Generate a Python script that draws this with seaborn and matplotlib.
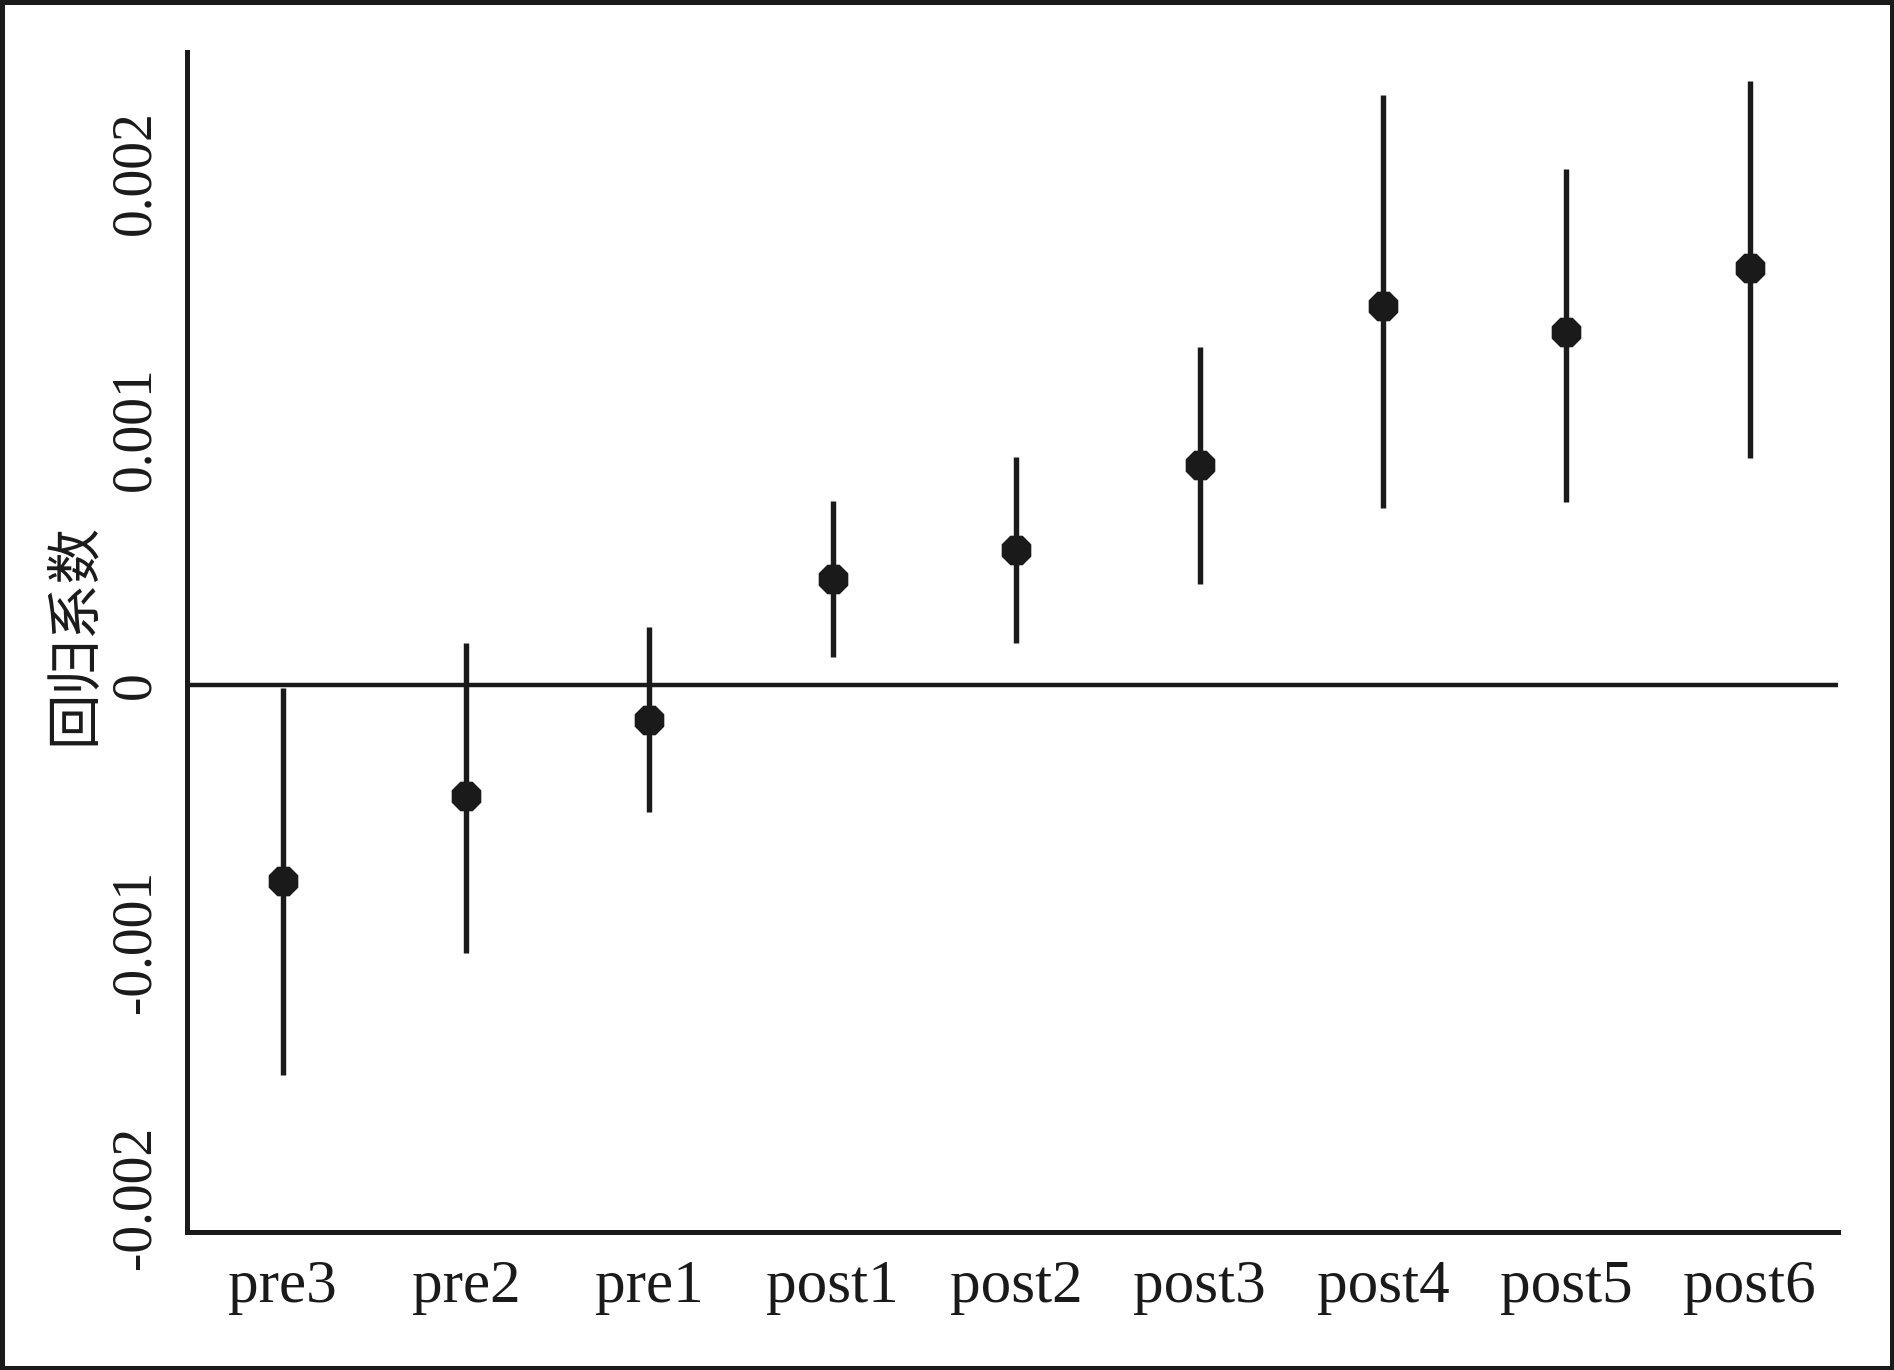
import numpy as np
import pandas as pd
import matplotlib
matplotlib.use("Agg")
import matplotlib.pyplot as plt
import seaborn as sns
from matplotlib.patches import Rectangle

# ---- data ----
periods = ["pre3", "pre2", "pre1", "post1", "post2", "post3", "post4", "post5", "post6"]
coef = [-0.000765, -0.000435, -0.000135, 0.000414, 0.000527, 0.000859, 0.001482, 0.001379, 0.001628]
ci_low = [-0.001525, -0.001045, -0.000495, 0.000109, 0.000164, 0.000395, 0.000690, 0.000716, 0.000888]
ci_high = [-0.000010, 0.000166, 0.000226, 0.000719, 0.000890, 0.001322, 0.002304, 0.002016, 0.002359]
yticks = [-0.002, -0.001, 0, 0.001, 0.002]
ytick_labels = ["-0.002", "-0.001", "0", "0.001", "0.002"]
ylabel = "回归系数"

df = pd.DataFrame({"period": periods, "coef": coef, "lo": ci_low, "hi": ci_high})

sns.set_theme(style="white")
plt.rcParams["font.family"] = ["Liberation Serif", "DejaVu Serif"]

ink = "#1a1a1a"
fig = plt.figure(figsize=(18.94, 13.70), dpi=100)
ax = fig.add_axes([187 / 1894, 138 / 1370, (1838 - 187) / 1894, (1232 - 52) / 1370])

xpos = np.arange(len(df))
# zero reference line
ax.axhline(0, color=ink, lw=3.2, zorder=1)
# confidence intervals
ax.vlines(xpos, df["lo"], df["hi"], color=ink, lw=3.9, zorder=2)
# point estimates
sns.scatterplot(data=df, x="period", y="coef", ax=ax, marker="8", s=22 ** 2,
                color=ink, edgecolor=ink, linewidth=1, zorder=3, legend=False)

ax.set_xlim(-0.521, 8.481)
ax.set_ylim(-0.0021367, 0.0024727)
ax.set_xticks(xpos)
ax.set_xticklabels(periods, fontsize=44, color=ink)
ax.set_yticks(yticks)
ax.set_yticklabels(ytick_labels, fontsize=40, color=ink, rotation=90, va="center")
ax.tick_params(axis="x", length=10.5, width=3.6, color=ink, pad=9, direction="out")
ax.tick_params(axis="y", length=10.5, width=3.6, color=ink, pad=8, direction="out")
ax.set_xlabel("")
ax.set_ylabel(ylabel, family=["Noto Sans CJK SC", "DejaVu Sans"], fontsize=40,
              color=ink, fontweight="light")
ax.yaxis.set_label_coords(-84 / 1651, 0.507)

for s in ["top", "right"]:
    ax.spines[s].set_visible(False)
for s in ["left", "bottom"]:
    ax.spines[s].set_color(ink)
    ax.spines[s].set_linewidth(3.6)
ax.grid(False)
ax.set_facecolor("white")
fig.patch.set_facecolor("white")

# outer frame of the figure
fig.patches.append(Rectangle((0, 0), 1, 1, transform=fig.transFigure, fill=False,
                             edgecolor=ink, lw=6.5, zorder=10))

fig.savefig("out.png", dpi=100)
